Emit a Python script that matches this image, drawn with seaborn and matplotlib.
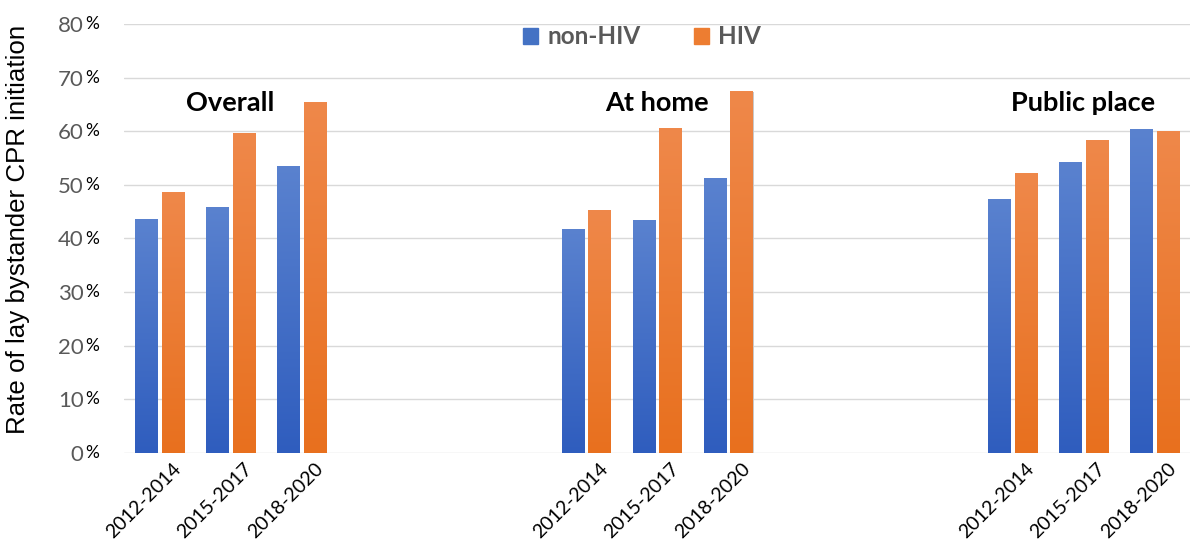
import numpy as np
import pandas as pd
import matplotlib
matplotlib.use("Agg")
import matplotlib.pyplot as plt
import seaborn as sns
from matplotlib.colors import LinearSegmentedColormap
from matplotlib.transforms import ScaledTranslation

sns.set_theme(style="white")
plt.rcParams['font.family'] = ['Lato', 'DejaVu Sans']

# Veriler
groups = ['Overall', 'At home', 'Public place']
periods = ['2012-2014', '2015-2017', '2018-2020']
non_hiv = [43.6, 45.8, 53.6, 41.8, 43.5, 51.3, 47.4, 54.2, 60.4]
hiv = [48.6, 59.7, 65.4, 45.4, 60.6, 67.5, 52.2, 58.4, 60.0]
yticks = [0, 10, 20, 30, 40, 50, 60, 70, 80]

# 15 kategori: her grup 3 dolu + 3 boş slot
slots = []
slot_labels = []
for g_i, g in enumerate(groups):
    for p in periods:
        slots.append(g + ' ' + p)
        slot_labels.append(p)
    if g_i < len(groups) - 1:
        for k in range(3):
            slots.append(g + ' empty ' + str(k))
            slot_labels.append('')

rows = []
i = 0
for g in groups:
    for p in periods:
        rows.append({'slot': g + ' ' + p, 'group': 'non-HIV', 'rate': non_hiv[i]})
        rows.append({'slot': g + ' ' + p, 'group': 'HIV', 'rate': hiv[i]})
        i += 1
df = pd.DataFrame(rows)

blue = '#4472C4'
orange = '#ED7D31'

fig = plt.figure(figsize=(12, 5.45), dpi=100)
ax = fig.add_axes([124 / 1200, 92 / 545, 1066 / 1200, 429 / 545])

sns.barplot(data=df, x='slot', y='rate', hue='group', order=slots,
            hue_order=['non-HIV', 'HIV'], palette=[blue, orange], saturation=1,
            width=0.75, gap=0.17, ax=ax, legend=False, errorbar=None,
            edgecolor='none')

# Excel tarzı gradyan dolgu
cm_blue = LinearSegmentedColormap.from_list('b', ['#2F5DBE', '#5A82CF'])
cm_orange = LinearSegmentedColormap.from_list('o', ['#E8701E', '#EF884A'])
grad = np.linspace(0, 1, 256).reshape(-1, 1)
for bar in list(ax.patches):
    h = bar.get_height()
    if not np.isfinite(h) or h <= 0:
        continue
    x0 = bar.get_x()
    w = bar.get_width()
    center = x0 + w / 2
    cm = cm_blue if center < round(center) else cm_orange
    # gölge
    ax.add_patch(plt.Rectangle((x0 + 0.015, 0), w, h - 0.1,
                               facecolor='#C8C8C8', edgecolor='none', zorder=1.5))
    bar.set_zorder(2)
    im = ax.imshow(grad, extent=[x0, x0 + w, 0, h], origin='lower', cmap=cm,
                   aspect='auto', zorder=2.5)
    im.set_clip_path(bar)

ax.set_xlim(-0.5, len(slots) - 0.5)
ax.set_ylim(0, 80)
ax.set_yticks(yticks)
ax.yaxis.grid(True, color='#D9D9D9', linewidth=1)
ax.set_axisbelow(True)
for s in ax.spines.values():
    s.set_visible(False)

ax.set_xticks(range(len(slots)))
ax.set_xticklabels(slot_labels, rotation=45, ha='right', rotation_mode='anchor',
                   fontsize=14, color='black')
ax.tick_params(axis='x', length=0, pad=5)
shift = ScaledTranslation(0.13, 0, fig.dpi_scale_trans)
for lbl in ax.get_xticklabels():
    lbl.set_transform(lbl.get_transform() + shift)
ax.set_xlabel('')

ax.set_yticklabels([str(v) for v in yticks], fontsize=16, color='#595959')
ax.tick_params(axis='y', length=0, pad=29)
for v in yticks:
    ax.text(-0.0365, v, '%', transform=ax.get_yaxis_transform(), fontsize=12.5,
            color='black', ha='left', va='center')

ax.set_ylabel('Rate of lay bystander CPR initiation', fontsize=18.6, color='black',
              family=['Liberation Sans', 'DejaVu Sans'])
ax.yaxis.set_label_coords(-0.088, 0.52)

# Grup başlıkları
for g_i, g in enumerate(groups):
    ax.text(slots.index(g + ' ' + periods[1]), 65.2, g, fontsize=19.5, fontweight='bold',
            ha='center', va='center', color='black')

# Lejant
handles = [plt.Rectangle((0, 0), 1, 1, color=blue), plt.Rectangle((0, 0), 1, 1, color=orange)]
leg = ax.legend(handles, ['non-HIV', 'HIV'], loc='center', bbox_to_anchor=(0.486, 0.97),
                ncol=2, frameon=False, fontsize=17.5, handlelength=0.6, handleheight=0.6,
                columnspacing=2.2, handletextpad=0.4)
for t in leg.get_texts():
    t.set_color('#595959')
    t.set_fontweight('bold')

fig.savefig('out.png', dpi=100)
